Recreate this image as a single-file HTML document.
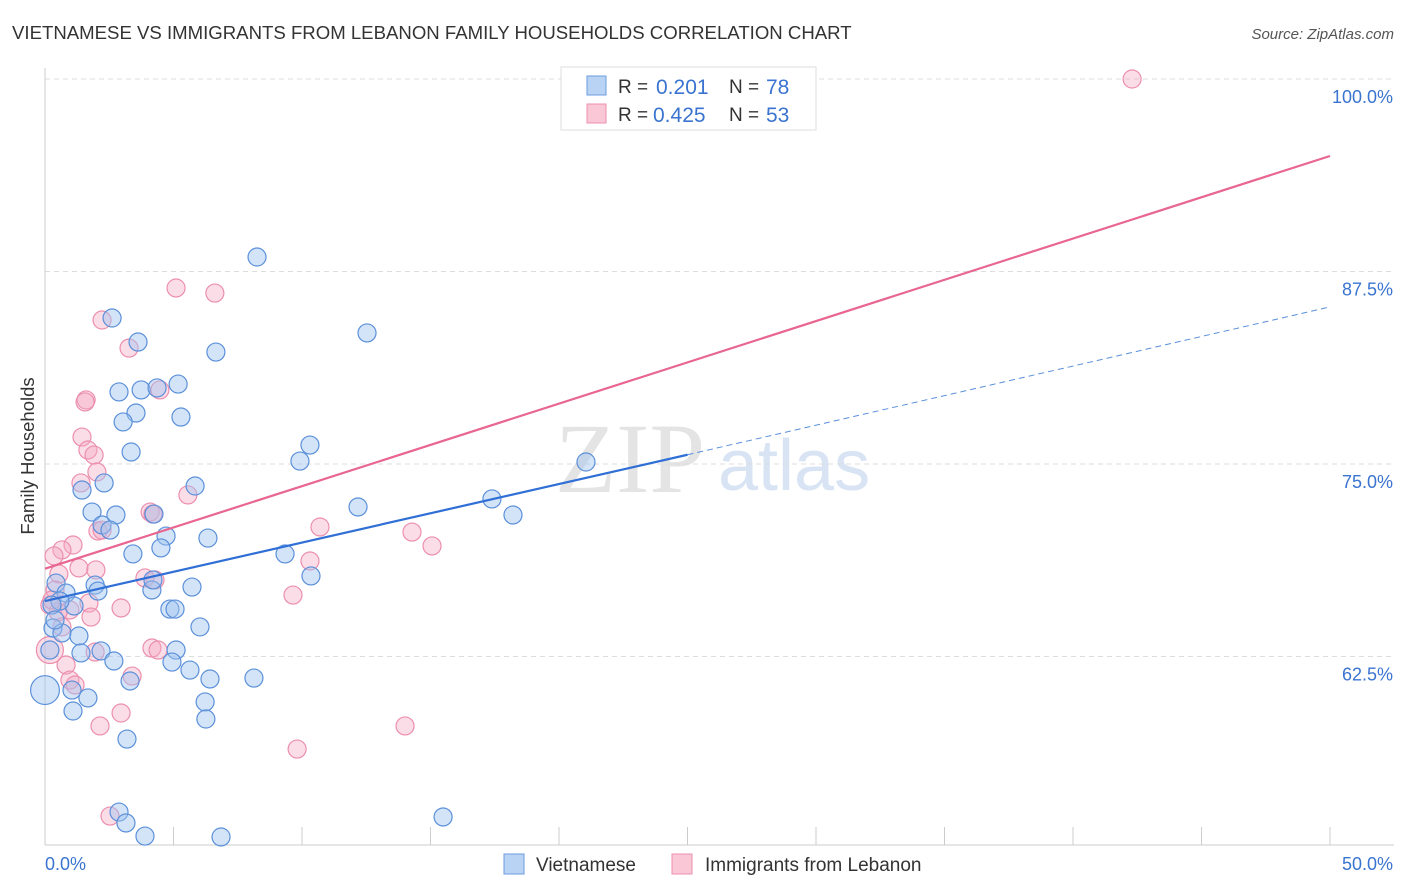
<!DOCTYPE html>
<html><head><meta charset="utf-8"><style>
body{margin:0;background:#fff;font-family:"Liberation Sans",sans-serif;}
svg{display:block}
</style></head><body>
<svg id="chart" width="1406" height="892">
<text x="12" y="39" font-size="18.6" fill="#333">VIETNAMESE VS IMMIGRANTS FROM LEBANON FAMILY HOUSEHOLDS CORRELATION CHART</text>
<text x="1394" y="39" font-size="15" fill="#555" font-style="italic" text-anchor="end">Source: ZipAtlas.com</text>
<text x="34" y="456" font-size="18.5" fill="#333" text-anchor="middle" transform="rotate(-90 34 456)">Family Households</text>
<text x="555" y="492" font-size="100" fill="#e4e4e4" font-family="Liberation Serif,serif">ZIP</text>
<text x="718" y="490" font-size="72" fill="#d8e4f4">atlas</text>
<g id="grid"></g><g id="axes"></g><g id="pts"></g><g id="lines"></g>
<g>
<rect x="561" y="67" width="255" height="63" fill="#fff" stroke="#ddd"/>
<rect x="587" y="76" width="19" height="19" fill="#b8d3f3" stroke="#6b9ee0"/>
<rect x="587" y="104" width="19" height="19" fill="#f9c7d6" stroke="#ec8fae"/>
<text x="618" y="93" font-size="19" fill="#333">R =</text><text x="656" y="94" font-size="21" fill="#3a74d0">0.201</text>
<text x="729" y="93" font-size="19" fill="#333">N =</text><text x="766" y="94" font-size="21" fill="#3a74d0">78</text>
<text x="618" y="121" font-size="19" fill="#333">R =</text><text x="653" y="122" font-size="21" fill="#3a74d0">0.425</text>
<text x="729" y="121" font-size="19" fill="#333">N =</text><text x="766" y="122" font-size="21" fill="#3a74d0">53</text>
</g>
<g>
<rect x="504" y="854" width="20" height="20" fill="#b8d3f3" stroke="#6b9ee0"/>
<text x="536" y="871" font-size="19" fill="#333">Vietnamese</text>
<rect x="672" y="854" width="20" height="20" fill="#f9c7d6" stroke="#ec8fae"/>
<text x="705" y="871" font-size="19" fill="#333">Immigrants from Lebanon</text>
</g>
</svg>
<script>
const yTicks=[62.5,75,87.5,100];
const yTickLabels=["62.5%","75.0%","87.5%","100.0%"];
const xTickLabels=["0.0%","50.0%"];
const viX=[8.25,12.53,2.61,3.62,6.65,2.88,3.74,4.36,5.18,3.54,3.04,5.29,3.35,10.31,9.92,1.44,2.30,5.84,1.83,2.76,4.24,2.22,2.53,4.71,6.34,3.42,4.51,12.18,17.39,18.21,21.05,9.34,10.35,0.43,0.82,1.95,2.06,4.16,5.72,4.20,4.86,5.06,1.13,0.58,0.27,0.31,0.66,1.32,6.03,1.40,2.18,5.10,2.68,4.94,5.64,6.42,8.13,3.31,1.05,1.67,0,1.09,6.23,6.26,3.19,2.88,3.15,3.89,6.85,15.49,0.19,0.39];
const viY=[88.44,83.51,84.48,82.92,82.27,79.68,79.81,79.94,80.19,78.31,77.73,78.05,75.78,76.23,75.19,73.31,73.77,73.57,71.88,71.69,71.75,71.04,70.71,70.32,70.19,69.16,69.55,72.21,72.73,71.69,75.13,69.16,67.73,67.27,66.62,67.14,66.75,66.82,67.01,67.47,65.58,65.58,65.78,66.10,65.84,64.35,64.03,63.83,64.42,62.73,62.86,62.92,62.21,62.14,61.62,61.04,61.10,60.91,60.32,59.81,60.32,58.96,59.55,58.44,57.14,52.40,51.69,50.84,50.78,52.08,62.92,64.87];
const viSize=[1,1,1,1,1,1,1,1,1,1,1,1,1,1,1,1,1,1,1,1,1,1,1,1,1,1,1,1,1,1,1,1,1,1,1,1,1,1,1,1,1,1,1,1,1,1,1,1,1,1,1,1,1,1,1,1,1,1,1,1,1.6,1,1,1,1,1,1,1,1,1,1,1];
const lbX=[42.30,5.10,6.61,2.22,3.27,1.60,1.56,4.47,1.44,1.67,1.91,2.02,1.40,5.56,4.09,4.20,10.70,14.28,15.06,2.06,2.22,1.09,0.66,0.35,1.32,1.98,0.54,3.89,4.28,10.31,9.65,0.39,1.71,2.96,0.19,0.97,0.51,1.79,0.27,0.66,4.16,4.40,1.95,0.19,0.82,3.39,0.97,1.17,2.14,2.96,9.81,14.01,2.53];
const lbY=[100,86.43,86.10,84.35,82.53,79.16,79.03,79.81,76.75,75.91,75.58,74.48,73.77,72.99,71.88,71.75,70.91,70.58,69.68,70.65,70.71,69.74,69.42,69.03,68.25,68.12,67.86,67.60,67.47,68.70,66.49,66.82,65.97,65.65,65.84,65.52,65.39,65.06,66.17,64.42,63.05,62.92,62.79,62.92,61.95,61.23,60.97,60.65,57.99,58.83,56.49,57.99,52.14];
const lbSize=[1,1,1,1,1,1,1,1,1,1,1,1,1,1,1,1,1,1,1,1,1,1,1,1,1,1,1,1,1,1,1,1,1,1,1,1,1,1,1,1,1,1,1,1.5,1,1,1,1,1,1,1,1,1];
const viTrend=[66.1,75.6,85.2];
const lbTrend=[68.2,95.0];
const X=v=>45+v*25.7, Y=v=>79+(100-v)*15.4;
const NS="http://www.w3.org/2000/svg";
function mk(p,t,a){const e=document.createElementNS(NS,t);for(const k in a)e.setAttribute(k,a[k]);p.appendChild(e);return e;}
const grid=document.getElementById('grid'),axes=document.getElementById('axes');
yTicks.forEach((t,i)=>{
 const g=mk(grid,'line',{x1:45,x2:1394,y1:Y(t),y2:Y(t),stroke:'#ddd','stroke-dasharray':'5,4'});
 
 
 const tx=mk(axes,'text',{x:1393,y:Y(t)+24,'font-size':18,fill:'#3a74d0','text-anchor':'end'});tx.textContent=yTickLabels[i];
 
 
});
mk(axes,'line',{x1:45,x2:45,y1:68,y2:845,stroke:'#ccc'});
mk(axes,'line',{x1:45,x2:1394,y1:845,y2:845,stroke:'#ccc'});
for(let i=0;i<=10;i++){mk(axes,'line',{x1:X(i*5),x2:X(i*5),y1:827,y2:845,stroke:'#ccc'});}
xTickLabels.forEach((l,i)=>{const t=mk(axes,'text',{x:i?1393:45,y:870,'font-size':18,fill:'#3a74d0','text-anchor':i?'end':'start'});t.textContent=l;
 
 });
const pts=document.getElementById('pts');
lbX.forEach((x,i)=>{const c=mk(pts,'circle',{cx:X(x),cy:Y(lbY[i]),r:9*lbSize[i],fill:'rgba(246,170,195,0.4)',stroke:'#ec8fae','stroke-width':1.2});
 
 });
viX.forEach((x,i)=>{const c=mk(pts,'circle',{cx:X(x),cy:Y(viY[i]),r:9*viSize[i],fill:'rgba(160,195,240,0.45)',stroke:'#5b90da','stroke-width':1.2});
 
 });
const ln=document.getElementById('lines');
let l=mk(ln,'line',{x1:X(0),y1:Y(lbTrend[0]),x2:X(50),y2:Y(lbTrend[1]),stroke:'#e8668f','stroke-width':2.2});


l=mk(ln,'line',{x1:X(0),y1:Y(viTrend[0]),x2:X(25),y2:Y(viTrend[1]),stroke:'#2f6fd6','stroke-width':2.2});


l=mk(ln,'line',{x1:X(25),y1:Y(viTrend[1]),x2:X(50),y2:Y(viTrend[2]),stroke:'#5b90da','stroke-width':1,'stroke-dasharray':'6,4'});


</script>
</body></html>
